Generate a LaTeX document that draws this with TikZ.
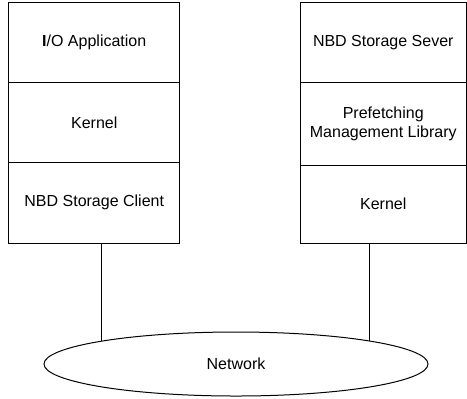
\documentclass[tikz,border=0pt]{standalone}
\usepackage{fontspec}
\setmainfont{Liberation Sans}
\usetikzlibrary{positioning,shapes.geometric,backgrounds}

\tikzset{
  layer/.style={draw, line width=1bp, minimum height=80bp, inner sep=0pt, outer sep=0pt,
    align=center, font=\fontsize{16bp}{19.5bp}\selectfont},
  cloud/.style={draw, fill=white, ellipse, line width=1bp, inner sep=0pt, outer sep=0pt,
    minimum width=384bp, minimum height=64bp, font=\fontsize{16bp}{19.5bp}\selectfont},
  link/.style={line width=1bp},
}

\begin{document}
\begin{tikzpicture}[x=1bp,y=-1bp]
  \useasboundingbox (0,0) rectangle (467,398);

  % Client stack
  \node[layer, minimum width=171bp] (app) at (94.25,42.5) {\textbf{I}/O Application};
  \node[layer, minimum width=171bp, below=0pt of app] (ckern) {Kernel};
  \node[layer, minimum width=171bp, minimum height=80.5bp, below=0pt of ckern] (client) {NBD Storage Client};

  % Server stack
  \node[layer, minimum width=166.5bp] (server) at (383.25,42.5) {NBD Storage Sever};
  \node[layer, minimum width=166.5bp, minimum height=82.5bp, below=0pt of server] (pml) {Prefetching\\Management Library};
  \node[layer, minimum width=166.5bp, minimum height=78bp, below=0pt of pml] (skern) {Kernel};

  % Network
  \node[cloud] (net) at (236,364) {Network};

  % Links
  \coordinate (ctap) at ([xshift=7.5bp]client.south);
  \coordinate (stap) at ([xshift=-14bp]skern.south);
  \begin{pgfonlayer}{background}
    \draw[link] (ctap) -- (ctap |- net.center);
    \draw[link] (stap) -- (stap |- net.center);
  \end{pgfonlayer}
\end{tikzpicture}
\end{document}
